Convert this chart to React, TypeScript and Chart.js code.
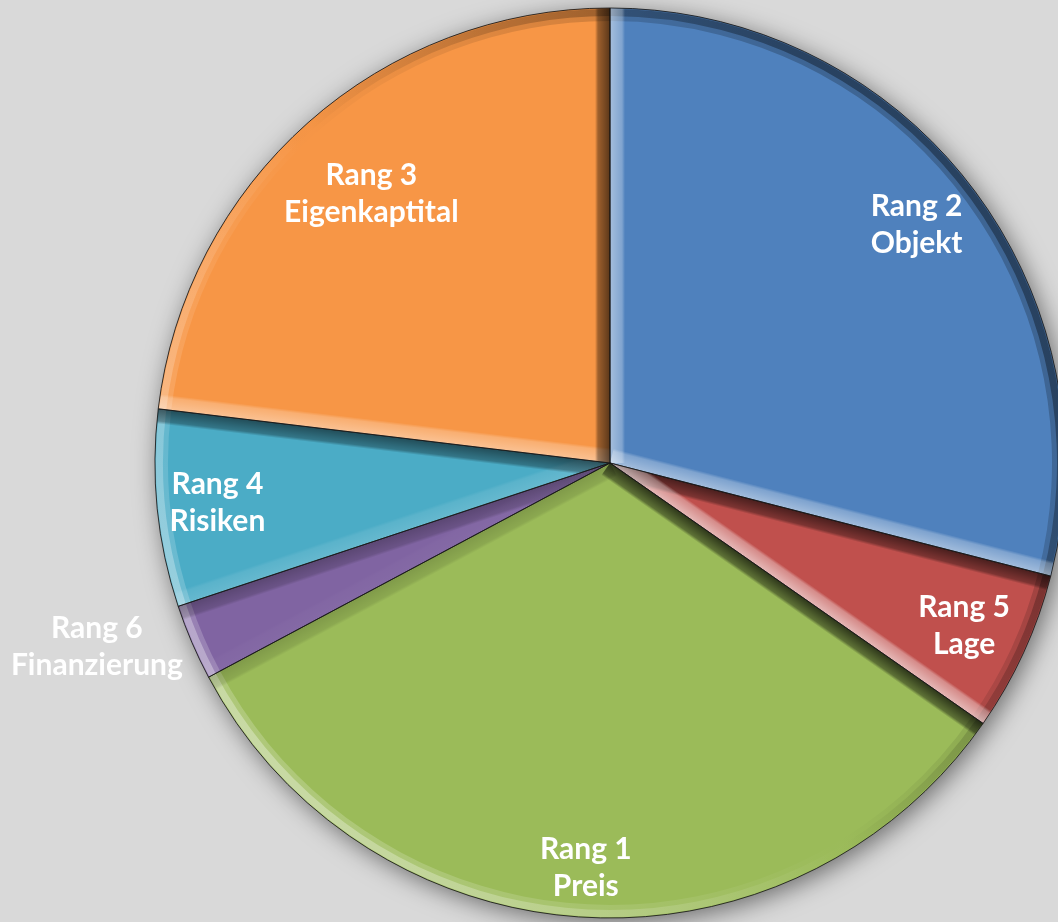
import React, { useEffect, useRef } from 'react';
import { Chart, registerables } from 'chart.js';

Chart.register(...registerables);

// Slices clockwise from 12 o'clock
const categories = ['Objekt', 'Lage', 'Preis', 'Finanzierung', 'Risiken', 'Eigenkaptital'];
const ranks = ['Rang 2', 'Rang 5', 'Rang 1', 'Rang 6', 'Rang 4', 'Rang 3'];
const shares = [29.0, 5.7, 32.5, 2.7, 7.0, 23.1];
const colors = ['#4f81bd', '#c0504d', '#9bbb59', '#8064a2', '#4bacc6', '#f79646'];

const BG = '#d9d9d9';
const LNORM = Math.hypot(-0.8, 0.6);
const LX = -0.8 / LNORM;
const LY = 0.6 / LNORM;

function shadeOf(nx: number, ny: number) {
  const s = nx * LX + ny * LY - 0.1;
  return Math.max(-1, Math.min(1, s));
}

function shadeColor(s: number, k: number) {
  return s >= 0
    ? `rgba(255,255,255,${(s * k).toFixed(3)})`
    : `rgba(0,0,0,${(-s * k).toFixed(3)})`;
}

const bevelPlugin = {
  id: 'bevel',
  beforeDatasetsDraw(chart: any) {
    const arcs = chart.getDatasetMeta(0).data;
    if (!arcs.length) return;
    const { x, y, outerRadius } = arcs[0];
    const ctx = chart.ctx as CanvasRenderingContext2D;
    ctx.save();
    ctx.shadowColor = 'rgba(0,0,0,0.5)';
    ctx.shadowBlur = 24;
    ctx.shadowOffsetX = 4;
    ctx.shadowOffsetY = 5;
    ctx.beginPath();
    ctx.arc(x, y, outerRadius, 0, Math.PI * 2);
    ctx.fillStyle = '#777';
    ctx.fill();
    ctx.restore();
  },
  afterDatasetsDraw(chart: any) {
    const ctx = chart.ctx as CanvasRenderingContext2D;
    const arcs = chart.getDatasetMeta(0).data;
    const W = 15;
    arcs.forEach((arc: any) => {
      const { x, y, startAngle: a, endAngle: b, outerRadius: r } = arc;
      ctx.save();
      ctx.beginPath();
      ctx.moveTo(x, y);
      ctx.arc(x, y, r, a, b);
      ctx.closePath();
      ctx.clip();

      const rimBand = (r0: number, r1: number, k: number) => {
        const conic = (ctx as any).createConicGradient(0, x, y);
        const N = 90;
        for (let i = 0; i <= N; i++) {
          const t = (i / N) * Math.PI * 2;
          const s = shadeOf(Math.cos(t), Math.sin(t));
          conic.addColorStop(i / N, shadeColor(s, k));
        }
        ctx.fillStyle = conic;
        ctx.beginPath();
        ctx.arc(x, y, r1, a, b);
        ctx.arc(x, y, r0, b, a, true);
        ctx.closePath();
        ctx.fill();
      };
      rimBand(r - 13, r, 0.22);
      rimBand(r - 8, r - 1, 0.35);

      const edge = (ang: number, sign: number) => {
        const ux = Math.cos(ang);
        const uy = Math.sin(ang);
        const tx = -Math.sin(ang) * sign;
        const ty = Math.cos(ang) * sign;
        const s = shadeOf(-tx, -ty);
        const mx = x + (ux * r) / 2;
        const my = y + (uy * r) / 2;
        const g = ctx.createLinearGradient(mx, my, mx + tx * W, my + ty * W);
        g.addColorStop(0, shadeColor(s, 0.7));
        g.addColorStop(0.8, shadeColor(s, 0.4));
        g.addColorStop(1, shadeColor(s, 0.0));
        ctx.fillStyle = g;
        ctx.beginPath();
        ctx.moveTo(x, y);
        ctx.lineTo(x + ux * r, y + uy * r);
        ctx.lineTo(x + ux * r + tx * W, y + uy * r + ty * W);
        ctx.lineTo(x + tx * W, y + ty * W);
        ctx.closePath();
        ctx.fill();
      };
      edge(a, 1);
      edge(b, -1);
      ctx.restore();

      ctx.save();
      ctx.beginPath();
      ctx.moveTo(x, y);
      ctx.arc(x, y, r, a, b);
      ctx.closePath();
      ctx.strokeStyle = 'rgba(25,25,25,0.85)';
      ctx.lineWidth = 1;
      ctx.stroke();
      ctx.restore();
    });
  },
};

const LINE = 37;
const FONT = 'bold 30px Lato, "Open Sans", sans-serif';

const labelPlugin = {
  id: 'sliceLabels',
  afterDraw(chart: any) {
    const ctx = chart.ctx as CanvasRenderingContext2D;
    const arcs = chart.getDatasetMeta(0).data;
    const total = shares.reduce((p, c) => p + c, 0);
    ctx.save();
    ctx.font = FONT;
    ctx.fillStyle = '#ffffff';
    ctx.textAlign = 'center';
    ctx.textBaseline = 'middle';
    arcs.forEach((arc: any, i: number) => {
      const { x, y, startAngle, endAngle, outerRadius: r } = arc;
      const mid = (startAngle + endAngle) / 2;
      const w = Math.max(ctx.measureText(ranks[i]).width, ctx.measureText(categories[i]).width);
      const h = LINE * 2;
      const ux = Math.cos(mid);
      const uy = Math.sin(mid);
      let cx: number;
      let cy: number;
      if (shares[i] / total < 0.04) {
        // outside end: box beside the rim point
        const px = x + ux * r;
        const py = y + uy * r;
        const gap = 9;
        cx = px + (ux < 0 ? -1 : 1) * (gap + w / 2);
        cy = py + 4;
      } else {
        // inside end: push the box outward until its far corner nears the rim
        const margin = 8;
        let lo = 0;
        let hi = r;
        for (let k = 0; k < 40; k++) {
          const d = (lo + hi) / 2;
          const bx = ux * d;
          const by = uy * d;
          let m = 0;
          for (const sx of [-1, 1]) {
            for (const sy of [-1, 1]) {
              m = Math.max(m, Math.hypot(bx + (sx * w) / 2, by + (sy * h) / 2));
            }
          }
          if (m > r - margin) hi = d;
          else lo = d;
        }
        cx = x + ux * lo;
        cy = y + uy * lo;
      }
      ctx.fillText(ranks[i], cx, cy - LINE / 2);
      ctx.fillText(categories[i], cx, cy + LINE / 2);
    });
    ctx.restore();
  },
};

export default function App() {
  const ref = useRef<HTMLCanvasElement | null>(null);

  useEffect(() => {
    document.body.style.margin = '0';
    if (!ref.current) return;
    const chart = new Chart(ref.current, {
      type: 'pie',
      data: {
        labels: categories.map((c, i) => `${ranks[i]} ${c}`),
        datasets: [
          {
            data: shares,
            backgroundColor: colors,
            borderWidth: 0,
          },
        ],
      },
      options: {
        responsive: false,
        animation: false,
        devicePixelRatio: 1,
        layout: { padding: { left: 155, right: 5, top: 8, bottom: 4 } },
        plugins: {
          legend: { display: false },
          tooltip: { enabled: false },
        },
      },
      plugins: [bevelPlugin, labelPlugin],
    });
    return () => chart.destroy();
  }, []);

  return (
    <div
      style={{
        width: 1058,
        height: 922,
        overflow: 'hidden',
        background: BG,
        position: 'relative',
      }}
    >
      <canvas ref={ref} width={1070} height={922} style={{ display: 'block' }} />
    </div>
  );
}
